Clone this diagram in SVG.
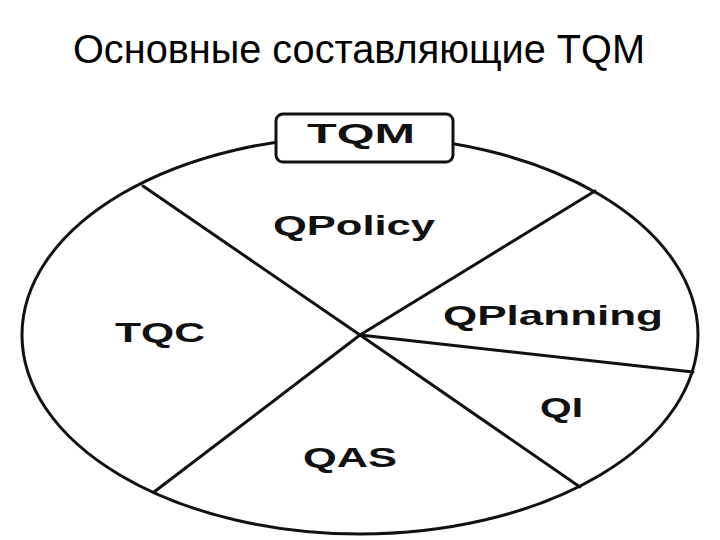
<svg xmlns="http://www.w3.org/2000/svg" width="720" height="540" viewBox="0 0 720 540">
<style>
.title{font-family:"Liberation Sans",Arial,sans-serif;font-size:40px;fill:#000}
.lbl{font-family:"Liberation Sans",Arial,sans-serif;font-size:27px;font-weight:bold;fill:#111}
.ln{stroke:#111;stroke-width:3;fill:none;stroke-linecap:round}
</style>
<rect width="720" height="540" fill="#fff"/>
<text class="title" x="73" y="63" textLength="572" lengthAdjust="spacingAndGlyphs">Основные составляющие TQM</text>
<g id="circle">
<ellipse class="ln" cx="360" cy="335" rx="338" ry="199"/>
</g>
<g id="connectors">
<line class="ln" x1="143" y1="186" x2="360" y2="335"/>
<line class="ln" x1="595" y1="191" x2="360" y2="335"/>
<line class="ln" x1="360" y1="335" x2="693" y2="372"/>
<line class="ln" x1="360" y1="335" x2="580" y2="487"/>
<line class="ln" x1="360" y1="335" x2="154" y2="492"/>
</g>
<g id="tqm">
<rect x="276" y="114" width="177" height="48" rx="7" fill="#fff" stroke="#111" stroke-width="3"/>
<text class="lbl" x="307" y="143" textLength="108" lengthAdjust="spacingAndGlyphs">TQM</text>
</g>
<g id="qpolicy"><text class="lbl" x="273" y="235" textLength="162" lengthAdjust="spacingAndGlyphs">QPolicy</text></g>
<g id="tqc"><text class="lbl" x="115" y="342" textLength="90" lengthAdjust="spacingAndGlyphs">TQC</text></g>
<g id="qplanning"><text class="lbl" x="443" y="325" textLength="220" lengthAdjust="spacingAndGlyphs">QPlanning</text></g>
<g id="qi"><text class="lbl" x="540" y="417" textLength="43" lengthAdjust="spacingAndGlyphs">QI</text></g>
<g id="qas"><text class="lbl" x="303" y="467" textLength="94" lengthAdjust="spacingAndGlyphs">QAS</text></g>
</svg>
